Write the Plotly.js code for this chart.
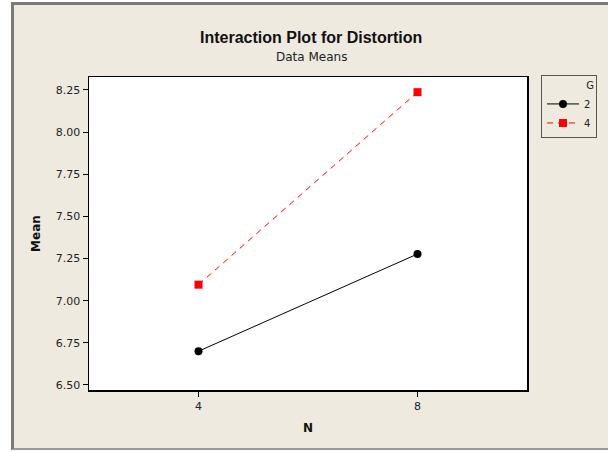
<!DOCTYPE html>
<html>
<head>
<meta charset="utf-8">
<script src="https://cdn.plot.ly/plotly-3.0.1.min.js"></script>
<style>
  html, body { margin: 0; padding: 0; background: #ffffff; width: 608px; height: 452px; overflow: hidden; }
  #frame { position: absolute; left: 11px; top: 2px; width: 597px; height: 448px;
           border-left: 3px solid #7a7a7a; border-top: 3px solid #7a7a7a; border-bottom: 2px solid #9a9a9a;
           box-sizing: border-box; background: #EEEAE0; }
  #chart { width: 594px; height: 443px; }
</style>
</head>
<body>
<div id="frame"><div id="chart"></div></div>
<script>
const nLevels = [4, 8];
const groupNames = ['2', '4'];
const meansG2 = [6.70, 7.277];
const meansG4 = [7.095, 8.237];
const yTicks = [6.50, 6.75, 7.00, 7.25, 7.50, 7.75, 8.00, 8.25];
const yTickText = ['6.50', '6.75', '7.00', '7.25', '7.50', '7.75', '8.00', '8.25'];

const font = 'Tahoma, "DejaVu Sans", "Liberation Sans", sans-serif';
const titleFont = '"Liberation Sans", Arial, sans-serif';

const traces = [
  { x: nLevels, y: meansG2, name: groupNames[0], type: 'scatter', mode: 'lines+markers',
    line: { color: '#000000', width: 1 }, marker: { symbol: 'circle', size: 8, color: '#000000' } },
  { x: nLevels, y: meansG4, name: groupNames[1], type: 'scatter', mode: 'lines+markers',
    line: { color: '#ff0000', width: 1, dash: '6px,5px' }, marker: { symbol: 'square', size: 8, color: '#ff0000' } }
];

const layout = {
  width: 594, height: 443,
  margin: { l: 75, r: 81, t: 72, b: 58, autoexpand: false },
  paper_bgcolor: '#EEEAE0', plot_bgcolor: '#ffffff',
  font: { family: font, color: '#222222', size: 11 },
  showlegend: true,
  legend: {
    x: 1.032, y: 1.005, xanchor: 'left', yanchor: 'top',
    bgcolor: '#EEEAE0', bordercolor: '#555555', borderwidth: 1,
    font: { family: font, size: 10, color: '#222222' },
    title: { text: 'G', side: 'top right', font: { family: font, size: 10, color: '#222222' } },
    itemwidth: 32, tracegroupgap: 0
  },
  xaxis: {
    range: [2, 10], tickvals: nLevels, ticktext: nLevels.map(String),
    showgrid: false, zeroline: false, showline: true, mirror: true, linecolor: '#000000', linewidth: 1.5,
    ticks: 'outside', ticklen: 5, tickcolor: '#000000', tickfont: { size: 11, color: '#222222' },
    title: { text: '<b>N</b>', font: { size: 12, color: '#111111' }, standoff: 12 }
  },
  yaxis: {
    range: [6.47, 8.327], tickvals: yTicks, ticktext: yTickText,
    showgrid: false, zeroline: false, showline: true, mirror: true, linecolor: '#000000', linewidth: 1.5,
    ticks: 'outside', ticklen: 5, tickcolor: '#000000', tickfont: { size: 11, color: '#222222' },
    title: { text: '<b>Mean</b>', font: { size: 12, color: '#111111' }, standoff: 12 }
  },
  annotations: [
    { text: '<b>Interaction Plot for Distortion</b>', xref: 'paper', yref: 'paper', x: 0.507, y: 1, yshift: 40,
      xanchor: 'center', yanchor: 'middle', showarrow: false, font: { family: titleFont, size: 16, color: '#111111' } },
    { text: 'Data Means', xref: 'paper', yref: 'paper', x: 0.507, y: 1, yshift: 20,
      xanchor: 'center', yanchor: 'middle', showarrow: false, font: { size: 12, color: '#222222' } }
  ]
};

Plotly.newPlot('chart', traces, layout, { displayModeBar: false, staticPlot: true });
</script>
</body>
</html>
